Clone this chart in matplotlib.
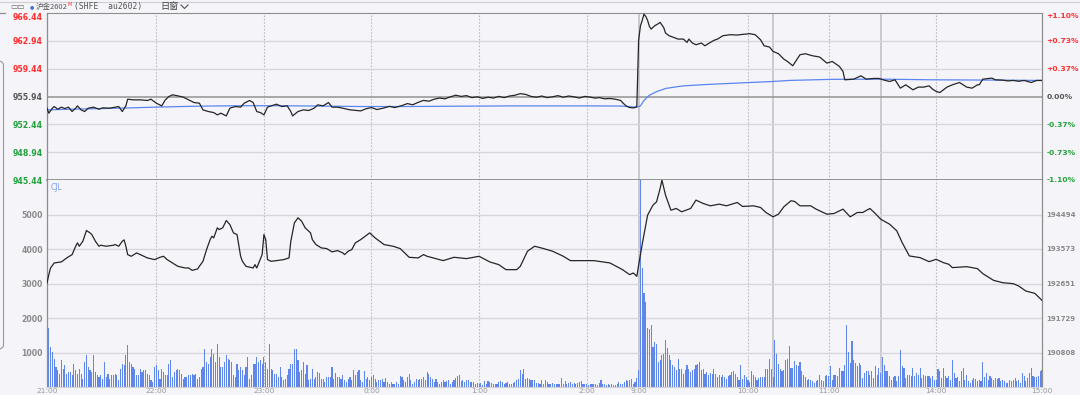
import numpy as np
import matplotlib
matplotlib.use('Agg')
import matplotlib.pyplot as plt
from matplotlib.patches import FancyBboxPatch
from matplotlib.lines import Line2D

# values; x = minute slot counted from the 21:00 open
price_min = [0, 1, 3, 4, 6, 8, 10, 12, 14, 16, 17, 19, 21, 23, 26, 29, 31, 35, 38, 40,
             42, 44, 45, 48, 52, 56, 58, 61, 64, 66, 68, 70, 73, 76, 79, 82, 85, 87, 90, 93,
             95, 97, 100, 102, 105, 108, 110, 113, 115, 117, 119, 121, 123, 125, 128, 131, 134, 136, 137, 140,
             143, 146, 149, 151, 154, 157, 159, 162, 165, 169, 175, 178, 181, 184, 188, 191, 194, 198, 201, 204,
             207, 210, 213, 216, 219, 222, 225, 228, 231, 234, 237, 240, 243, 246, 249, 252, 255, 258, 261, 264,
             267, 270, 273, 276, 279, 282, 285, 288, 291, 294, 297, 300, 303, 306, 308, 311, 314, 317, 320, 321,
             323, 325, 327, 328, 329, 330, 331, 332, 333, 334, 335, 336, 337, 339, 341, 342, 344, 345, 347, 349,
             352, 355, 357, 358, 360, 362, 365, 367, 370, 372, 374, 377, 381, 385, 388, 392, 395, 398, 400, 403,
             405, 408, 411, 413, 416, 420, 423, 427, 431, 435, 438, 442, 444, 445, 450, 454, 457, 461, 464, 467,
             470, 473, 476, 479, 483, 486, 489, 492, 494, 496, 498, 502, 505, 509, 513, 516, 519, 520, 522, 527,
             529, 533, 536, 539, 542, 545, 549, 552, 555]
price_val = [954.47, 953.84, 954.47, 954.68, 954.34, 954.60, 954.43, 954.60, 954.05, 954.47, 954.76, 954.26, 954.05, 954.47, 954.60, 954.34, 954.51, 954.47, 954.60, 954.68,
             954.05, 954.76, 955.60, 955.52, 955.52, 955.44, 955.60, 955.10, 954.76, 955.52, 955.94, 956.15, 956.02, 955.86, 955.52, 955.18, 955.10, 954.26, 954.05, 953.92,
             953.63, 953.84, 953.50, 954.47, 954.68, 954.60, 955.10, 955.44, 955.18, 954.05, 953.92, 953.63, 954.60, 954.76, 954.97, 954.68, 954.76, 954.05, 953.50, 954.05,
             954.26, 954.18, 954.47, 954.89, 954.76, 955.18, 954.60, 954.60, 954.47, 954.26, 954.13, 954.40, 954.55, 954.30, 954.50, 954.70, 954.55, 954.80, 955.05, 954.90,
             955.20, 955.45, 955.35, 955.60, 955.75, 955.65, 955.90, 956.10, 955.95, 956.05, 955.80, 955.90, 955.70, 955.85, 955.75, 955.95, 955.80, 956.00, 956.10, 956.30,
             956.20, 955.95, 955.85, 956.00, 955.80, 955.90, 956.05, 955.85, 956.00, 955.90, 955.75, 955.95, 955.86, 955.73, 955.81, 955.65, 955.69, 955.60, 955.44, 955.18,
             954.76, 954.55, 954.51, 954.55, 954.68, 963.00, 964.80, 965.50, 966.30, 966.00, 965.52, 964.76, 964.42, 964.84, 965.10, 965.26, 964.60, 963.92, 963.58, 963.42,
             963.16, 963.16, 962.74, 963.16, 962.66, 962.45, 962.66, 962.32, 962.74, 963.00, 963.16, 963.58, 963.71, 963.67, 963.75, 963.84, 963.71, 963.08, 962.32, 962.16,
             961.61, 961.32, 960.64, 960.35, 959.80, 961.19, 961.32, 961.06, 960.90, 960.14, 960.35, 959.72, 959.09, 958.04, 958.12, 958.54, 958.12, 958.21, 958.21, 958.00,
             957.83, 958.04, 956.99, 957.41, 956.78, 957.12, 957.12, 957.28, 956.86, 956.57, 956.44, 957.12, 957.41, 957.70, 957.12, 956.99, 957.41, 957.41, 958.12, 958.25,
             958.04, 958.00, 957.90, 957.96, 957.85, 957.96, 957.70, 957.96, 957.96]

avg_min = [0, 15, 30, 45, 60, 75, 90, 110, 130, 150, 175, 200, 230, 260, 300, 320, 325, 329,
           331, 333, 336, 340, 345, 350, 355, 368, 387, 405, 414, 438, 466, 494, 531, 555]
avg_val = [954.26, 954.35, 954.42, 954.50, 954.60, 954.68, 954.74, 954.78, 954.78, 954.74, 954.68, 954.68,
           954.72, 954.76, 954.76, 954.74, 954.66, 954.60, 954.76, 955.45, 956.10, 956.55, 956.95, 957.12,
           957.28, 957.45, 957.65, 957.83, 957.96, 958.10, 958.12, 958.04, 958.00, 957.96]

oi_min = [0, 1, 2, 4, 8, 11, 14, 16, 17, 18, 20, 22, 24, 25, 27, 29, 30, 33, 37, 38,
          40, 42, 43, 44, 45, 47, 50, 52, 56, 60, 63, 65, 67, 70, 73, 77, 79, 81, 84, 85,
          87, 89, 91, 92, 93, 95, 96, 98, 100, 102, 104, 106, 108, 109, 111, 115, 116, 117, 120, 121,
          122, 123, 125, 128, 132, 135, 136, 138, 140, 142, 144, 147, 148, 150, 153, 156, 159, 162, 165, 166,
          168, 170, 172, 175, 180, 183, 188, 193, 197, 202, 207, 210, 212, 221, 227, 234, 241, 247, 252, 256,
          262, 264, 268, 272, 277, 282, 288, 292, 305, 314, 321, 325, 327, 329, 330, 332, 335, 338, 340, 342,
          343, 345, 346, 348, 351, 354, 359, 362, 366, 370, 375, 379, 385, 388, 394, 398, 401, 405, 408, 411,
          415, 417, 420, 426, 429, 435, 439, 444, 448, 452, 455, 459, 462, 465, 470, 474, 477, 481, 487, 492,
          496, 500, 503, 505, 513, 519, 522, 528, 533, 539, 542, 546, 551, 555]
oi_val = [192664, 192887, 193066, 193200, 193227, 193334, 193423, 193646, 193736, 193646, 193780, 194066, 194003, 193958, 193780, 193646, 193673, 193646, 193673, 193691,
          193646, 193780, 193816, 193646, 193423, 193378, 193468, 193423, 193334, 193289, 193351, 193378, 193289, 193200, 193110, 193066, 193066, 193002, 193040, 193110,
          193244, 193557, 193824, 193913, 193870, 194138, 194092, 194138, 194333, 194226, 194003, 193958, 193378, 193244, 193110, 193066, 193155, 193066, 193423, 193958,
          193824, 193289, 193244, 193262, 193289, 193334, 193780, 194272, 194406, 194316, 194138, 194003, 193824, 193691, 193602, 193584, 193495, 193531, 193468, 193423,
          193513, 193557, 193736, 193824, 194003, 193870, 193691, 193646, 193584, 193351, 193334, 193423, 193378, 193262, 193351, 193316, 193378, 193227, 193155, 193021,
          193021, 193110, 193513, 193646, 193584, 193513, 193378, 193262, 193262, 193200, 193021, 192887, 192932, 192843, 193137, 193700, 194476, 194744, 194833, 195190,
          195414, 195012, 194878, 194610, 194655, 194566, 194655, 194878, 194789, 194726, 194770, 194726, 194815, 194708, 194726, 194682, 194548, 194432, 194503, 194700,
          194861, 194843, 194726, 194726, 194637, 194503, 194521, 194637, 194432, 194548, 194548, 194655, 194521, 194369, 194235, 194057, 193744, 193387, 193342, 193235,
          193297, 193208, 193164, 193075, 193101, 193048, 192914, 192735, 192673, 192646, 192584, 192450, 192387, 192200]

# one bar per minute: 21:00-02:30, 09:00-10:15, 10:30-11:30, 13:30-15:00
vol_night = [1700, 1160, 1020, 820, 580, 490, 390,
             780, 530, 630, 390, 440, 440, 340, 680, 490, 390, 530, 390, 240, 730, 920,
             580, 490, 440, 940, 440, 340, 290, 340, 240, 730, 290, 390, 240, 340, 340,
             390, 340, 190, 530, 680, 630, 920, 1210, 730, 680, 580, 530, 340, 340, 530,
             440, 490, 490, 390, 340, 190, 150, 580, 630, 490, 240, 530, 440, 340, 340,
             680, 780, 290, 440, 490, 530, 490, 390, 240, 290, 290, 340, 340, 390, 340,
             390, 240, 290, 530, 580, 1110, 730, 680, 870, 1110, 970, 730, 1260, 870, 580,
             580, 730, 920, 820, 780, 730, 340, 290, 680, 490, 580, 490, 340, 580, 870,
             240, 340, 680, 680, 870, 730, 780, 680, 870, 730, 530, 1240, 530, 490, 390,
             390, 290, 580, 290, 190, 240, 340, 530, 680, 680, 1110, 1110,
             780, 440, 490, 730, 390, 630, 190, 240, 530, 240, 290, 440,
             410, 240, 240, 150, 290, 290, 290, 580, 240, 410, 290, 290,
             240, 340, 190, 150, 240, 290, 190, 490, 340, 440, 490, 190,
             150, 470, 240, 290, 210, 290, 340, 240, 150, 190, 210, 240,
             150, 270, 150, 100, 150, 80, 100, 150, 100, 310, 290, 190,
             150, 290, 370, 190, 100, 150, 240, 190, 240, 240, 290, 190,
             440, 390, 290, 240, 150, 240, 150, 100, 150, 190, 150, 180,
             190, 100, 150, 190, 270, 310, 340, 180, 210, 150, 190, 190,
             150, 150, 150, 100, 120, 80, 120, 70, 160, 100, 180, 150,
             120, 80, 100, 80, 150, 180, 150, 100, 120, 150, 100, 80,
             120, 150, 190, 240, 490, 390, 510, 240, 270, 240, 190, 210,
             190, 120, 120, 100,
             190, 100, 190, 150, 80, 100, 120, 100, 80, 80, 100, 260, 100,
             170, 80, 120, 150, 100, 120, 80, 120, 150, 160, 100, 80, 80, 70,
             80, 80, 100, 80, 50, 120, 190, 80, 100, 70, 80, 50, 80, 70,
             70, 80, 150, 100, 80, 150, 190, 170, 190, 240, 100,
             150, 270, 480]
vol_am1 = [6800, 3450, 2720, 2470, 1700, 1670, 1790, 1160, 1310, 1260,
           730, 780, 920, 970, 1360, 1120, 920, 780, 630, 580,
           490, 820, 530, 530, 390,
           490, 630, 530, 440, 490, 530, 630, 680, 730, 490, 530, 390, 440, 340,
           410, 370, 530, 390, 290, 340, 290, 340, 290, 240, 310, 340, 440,
           470, 390, 290, 190, 630, 240, 340, 290, 190, 150, 470, 340, 290,
           190, 270, 290, 290, 290, 530, 530, 820, 530, 290]
vol_am2 = [1360, 970, 680, 530,
           450, 500, 790, 810, 1180, 550, 550, 740, 650, 600, 720,
           450, 360, 290, 210, 230, 210, 165, 120, 180, 210, 360,
           210, 165, 310, 360, 310, 600, 210, 360, 360, 330, 550,
           450, 450, 650, 1810, 1010, 700, 1330, 790, 700, 600, 700,
           650, 270, 420, 450, 450, 360, 450, 270, 600,
           360, 550, 420]
vol_pm = [870, 650, 450, 450, 330, 210, 290, 310, 165, 310, 1070, 600, 550,
          270, 360, 360, 310, 550, 310, 420, 360, 550, 270, 360, 310, 310,
          330, 270, 310, 210, 210, 520, 450, 270, 550, 310, 270, 330, 210,
          790, 420, 270, 290, 180, 450, 550, 210, 360, 165, 120, 190, 270,
          230, 165, 210, 165, 720, 290, 420, 210, 310, 270, 210, 270, 230,
          270, 165, 210, 165, 120, 120, 210, 165, 210, 270, 165, 210, 120,
          420, 310, 165, 270, 420, 550, 330, 290, 290,
          330, 450, 500]

prev_close = 955.94
price_ticks = [945.44, 948.94, 952.44, 955.94, 959.44, 962.94, 966.44]
pct_labels = ['-1.10%', '-0.73%', '-0.37%', '0.00%', '+0.37%', '+0.73%', '+1.10%']
vol_ticks = [1000, 2000, 3000, 4000, 5000]
oi_ticks = [190808, 191729, 192651, 193573, 194494]
time_pos = [0, 61, 121, 181, 241, 301, 330, 391, 436, 496, 555]
time_lbl = ['21:00', '22:00', '23:00', '0:00', '1:00', '2:00', '9:00', '10:00', '11:00', '14:00', '15:00']
hour_lines = [61, 121, 181, 241, 301, 391, 436, 496]
session_lines = [330, 405, 465]

BG = '#f4f4f9'
RED = '#ff2d2d'
GREEN = '#22a03a'
GRID = '#d6d6dc'
FRAME = '#8e8e8e'
CJK = ['Noto Sans CJK SC', 'DejaVu Sans']

W, H = 1080, 395
fig = plt.figure(figsize=(W / 100, H / 100), dpi=100)
fig.patch.set_facecolor(BG)

left, right = 47, 1042
ax1 = fig.add_axes([left / W, (H - 180) / H, (right - left) / W, 167 / H])
ax2 = fig.add_axes([left / W, 8 / H, (right - left) / W, 207 / H])

for ax in (ax1, ax2):
    ax.set_facecolor(BG)
    ax.set_xlim(0, 555)
    for v in hour_lines:
        ax.axvline(v, color='#bcbcc2', lw=0.8, ls=(0, (1.5, 1.5)), zorder=1)
    for v in session_lines:
        ax.axvline(v, color='#c6c6cc', lw=1.3, zorder=1)
    for s in ('left', 'right'):
        ax.spines[s].set_color(FRAME)
        ax.spines[s].set_linewidth(0.9)

# ---- price panel ----
ax1.set_ylim(price_ticks[0], price_ticks[-1])
for v in price_ticks[1:-1]:
    if v == prev_close:
        ax1.axhline(v, color='#9a9a9a', lw=1.2, zorder=1)
    else:
        ax1.axhline(v, color=GRID, lw=1.0, zorder=1)
ax1.plot(avg_min, avg_val, color='#5b86f0', lw=0.9, zorder=3)
ax1.plot(price_min, price_val, color='#262626', lw=0.9, zorder=4)
ax1.spines['top'].set_color(FRAME)
ax1.spines['bottom'].set_color('#7a7a7a')
ax1.spines['bottom'].set_linewidth(1.1)
ax1.set_xticks([])

def level_color(v):
    if v > prev_close + 1e-6:
        return RED
    if v < prev_close - 1e-6:
        return GREEN
    return '#555555'

ax1.set_yticks(price_ticks)
ax1.set_yticklabels(['%.2f' % v for v in price_ticks])
ax1.tick_params(axis='y', length=0, pad=3, labelsize=5.6)
for lbl, v in zip(ax1.get_yticklabels(), price_ticks):
    lbl.set_color(level_color(v))
    lbl.set_fontweight('bold')
ax1.get_yticklabels()[-1].set_va('top')

ax1r = ax1.twinx()
ax1r.set_ylim(ax1.get_ylim())
ax1r.set_yticks(price_ticks)
ax1r.set_yticklabels(pct_labels)
ax1r.tick_params(axis='y', length=0, pad=3, labelsize=5.4)
for lbl, v in zip(ax1r.get_yticklabels(), price_ticks):
    lbl.set_color(level_color(v))
    lbl.set_fontweight('bold')
ax1r.get_yticklabels()[-1].set_va('top')
for s in ax1r.spines.values():
    s.set_visible(False)

# ---- volume / open interest panel ----
vol_all = vol_night + vol_am1 + vol_am2 + vol_pm
vol_x = np.arange(1, len(vol_all) + 1)
ax2.set_ylim(0, 6000)
for v in vol_ticks:
    ax2.axhline(v, color=GRID, lw=1.0, zorder=1)
ax2.bar(vol_x, vol_all, width=0.62, color='#5f86ea', linewidth=0, zorder=2)
ax2.spines['top'].set_visible(False)
ax2.spines['bottom'].set_color('#d0d0d6')
ax2.set_yticks(vol_ticks)
ax2.tick_params(axis='y', length=0, pad=3, labelsize=5.6, colors='#8a8a8a')
for lbl in ax2.get_yticklabels():
    lbl.set_fontweight('bold')
ax2.set_xticks(time_pos)
ax2.set_xticklabels(time_lbl)
ax2.tick_params(axis='x', length=0, pad=0.4, labelsize=5.4, colors='#9a9a9a')
ax2.text(0.004, 0.985, 'CJL', transform=ax2.transAxes, ha='left', va='top',
         fontsize=5.5, color='#7b9cf0')

ax2r = ax2.twinx()
ax2r.set_ylim(189886.5, 195415.5)
ax2r.plot(oi_min, oi_val, color='#262626', lw=0.9, zorder=4)
ax2r.set_yticks(oi_ticks)
ax2r.set_yticklabels([str(v) for v in oi_ticks])
ax2r.tick_params(axis='y', length=0, pad=3, labelsize=5.0, colors='#8a8a8a')
for lbl in ax2r.get_yticklabels():
    lbl.set_fontweight('bold')
for s in ax2r.spines.values():
    s.set_visible(False)

# ---- header strip and left frame ----
def fy(py):
    return 1 - py / H

fig.add_artist(Line2D([0, 1], [fy(1.5), fy(1.5)], color='#cfcfd4', lw=0.8))
fig.add_artist(Line2D([0, 5 / W], [fy(13), fy(13)], color=FRAME, lw=0.9))
fig.text(10 / W, fy(6.5), '\u25ad\u25ad', fontsize=5.5, color='#666666', va='center', ha='left')
fig.text(30 / W, fy(6.5), '\u25cf', fontsize=3.5, color='#3c6fe0', va='center', ha='left')
fig.text(36 / W, fy(6.5), '沪金2602', fontsize=5.4, color='#555555', va='center', ha='left', family=CJK)
fig.text(67.5 / W, fy(4.0), 'M', fontsize=3.4, color=RED, va='center', ha='left')
fig.text(74 / W, fy(6.5), '(SHFE  au2602)', fontsize=5.8, color='#555555', va='center', ha='left',
         family='DejaVu Sans Mono')
fig.text(160 / W, fy(6.5), '日窗', fontsize=6.6, color='#444444', va='center', ha='left', family=CJK)
fig.add_artist(Line2D([181 / W, 184.5 / W, 188 / W], [fy(5), fy(8.5), fy(5)], color='#555555', lw=0.8))

frame = FancyBboxPatch((-30 / W, fy(350)), 33.5 / W, 290 / H,
                       boxstyle='round,pad=0,rounding_size=0.012',
                       transform=fig.transFigure, fill=False, ec='#9a9a9a', lw=0.8)
fig.add_artist(frame)

fig.savefig('out.png', dpi=100, facecolor=BG)
